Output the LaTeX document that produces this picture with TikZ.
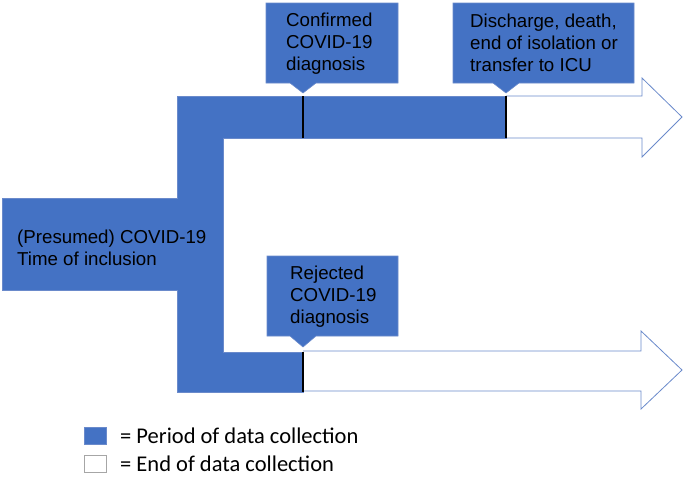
\documentclass[tikz,border=0pt]{standalone}
\usepackage{fontspec}
\setmainfont{Liberation Sans}
\newfontfamily\legendfont{Carlito}
\definecolor{obar}{HTML}{4472C4}
\definecolor{oline}{HTML}{6A8ACB}
\begin{document}
\begin{tikzpicture}[x=1pt,y=-1pt,
  bluefill/.style={fill=obar,draw=oline,line width=0.6pt},
  whitearrow/.style={fill=white,draw=oline,line width=0.8pt},
  tick/.style={draw=black,line width=1.2pt},
  lbl/.style={anchor=west,inner sep=0pt,align=left,font=\fontsize{18.7}{22}\selectfont,text=black},
  leg/.style={anchor=west,inner sep=0pt,font=\legendfont\fontsize{22.5}{26}\selectfont,text=black}]
\useasboundingbox (0,0) rectangle (685,480);
% arrows (white)
\draw[whitearrow] (506,96) -- (642,96) -- (642,78) -- (682,117) -- (642,157) -- (642,138) -- (506,138);
\draw[whitearrow] (303,351) -- (641,351) -- (641,331) -- (682,370) -- (641,409) -- (641,391) -- (303,391);
% blue bracket
\draw[bluefill] (2,198) -- (177,198) -- (177,96) -- (506,96) -- (506,138) -- (223,138) -- (223,352)
  -- (303,352) -- (303,392) -- (177,392) -- (177,290) -- (2,290) -- cycle;
% ticks
\coordinate (t1a) at (303,96); \coordinate (t1b) at (303,138);
\coordinate (t2a) at (506,96); \coordinate (t2b) at (506,138);
\coordinate (t3a) at (303,352); \coordinate (t3b) at (303,392);
\draw[tick] (t1a) -- (t1b);
\draw[tick] (t2a) -- (t2b);
\draw[tick] (t3a) -- (t3b);
% callouts
\draw[bluefill] (266,3) -- (398,3) -- (398,83) -- (316,83) -- (303,93) -- (290,83) -- (266,83) -- cycle;
\draw[bluefill] (453,3) -- (634,3) -- (634,83) -- (519,83) -- (506,93) -- (493,83) -- (453,83) -- cycle;
\draw[bluefill] (267,256) -- (398,256) -- (398,336) -- (316,336) -- (303,347) -- (290,336) -- (267,336) -- cycle;
% texts
\node[lbl] (conf) at (286,44) {Confirmed\\COVID-19\\diagnosis};
\node[lbl] (disc) at (470,43) {Discharge, death,\\end of isolation or\\transfer to ICU};
\node[lbl] (incl) at (17,248) {(Presumed) COVID-19\\Time of inclusion};
\node[lbl] (rej) at (290,297) {Rejected\\COVID-19\\diagnosis};
% legend
\draw[bluefill] (84,427) rectangle (106,444);
\draw[fill=white,draw=gray!70,line width=0.6pt] (84,455) rectangle (106,472);
\node[leg] (l1) at (120,435.5) {= Period of data collection};
\node[leg] (l2) at (120,463.5) {= End of data collection};
\end{tikzpicture}
\end{document}
